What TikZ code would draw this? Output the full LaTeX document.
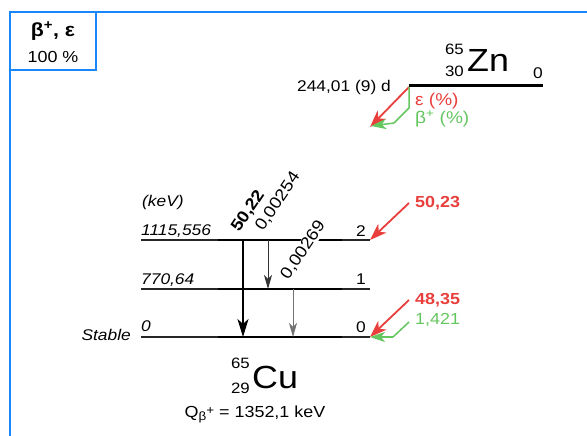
\documentclass[tikz,border=0pt]{standalone}
\usepackage{fontspec}
\setmainfont{Liberation Sans}[FakeStretch=1.12]
\usetikzlibrary{arrows.meta}
\definecolor{frameblue}{RGB}{25,135,250}
\definecolor{decred}{RGB}{232,62,60}
\definecolor{decgreen}{RGB}{100,198,95}
\newcommand{\fsz}[1]{\fontsize{#1}{#1}\selectfont}
\begin{document}
\begin{tikzpicture}[x=1pt,y=-1pt,
  lbl/.style={inner sep=0pt, font=\fsz{15.5}},
  ilbl/.style={inner sep=0pt, font=\fsz{15.5}\itshape},
  redlbl/.style={inner sep=0pt, font=\fsz{16}\bfseries, text=decred},
  framebox/.style={draw=frameblue, line width=2pt},
  lvlthick/.style={line width=2.3pt, black!85},
  lvlthin/.style={line width=1.3pt, black},
  gamthick/.style={line width=2pt, -{Stealth[length=18pt,width=11pt,inset=5pt]}},
  gamthin/.style={line width=1pt, black!80, -{Stealth[length=14pt,width=8pt,inset=4pt]}},
  gamgray/.style={line width=1pt, black!55, -{Stealth[length=14pt,width=8pt,inset=4pt]}},
  feedred/.style={line width=1.8pt, decred, -{Stealth[length=17pt,width=12pt,inset=5pt]}},
  feedgreen/.style={line width=1.5pt, decgreen, -{Stealth[length=15pt,width=10pt,inset=4pt]}}
]
\useasboundingbox (0,0) rectangle (587,436);

% blue frame
\draw[framebox] (10,436) -- (10,12) -- (587,12);
\draw[framebox] (10,12) rectangle (96,70);
\node[inner sep=0pt, font=\fsz{19}\bfseries] (mode) at (53,31) {β\textsuperscript{+}, ε};
\node[lbl, font=\fsz{16}] (pct) at (53,57) {100 \%};

% parent Zn
\coordinate (Zna) at (409,86);
\coordinate (Znb) at (543,86);
\draw[line width=3pt] (Zna) -- (Znb);
\node[inner sep=0pt, font=\fsz{32}, anchor=base west] (Zn) at (467,72) {Zn};
\node[inner sep=0pt, font=\fsz{15}, anchor=base east] (ZnA) at (464,55) {65};
\node[inner sep=0pt, font=\fsz{15}, anchor=base east] (ZnZ) at (464,77) {30};
\node[lbl, anchor=base east] (ZnE) at (543,79) {0};
\node[lbl, anchor=base east] (Znhl) at (391,92) {244,01 (9) d};

% parent decay arrows
\coordinate (zd) at (409,87);
\coordinate (zred) at (370,127);
\coordinate (zg1) at (409,108);
\coordinate (zg2) at (394,123);
\coordinate (zgreen) at (371,126);
\draw[feedred] (zd) -- (zred);
\draw[line width=1.5pt, decgreen, line join=round] (zd) -- (zg1) -- (zg2);
\draw[feedgreen] (zg2) -- (zgreen);
\node[lbl, font=\fsz{17}, anchor=base west, text=decred] (eps) at (415,106) {ε (\%)};
\node[lbl, font=\fsz{17}, anchor=base west, text=decgreen] (bplus) at (415,124) {β\textsuperscript{+} (\%)};

% daughter levels
\foreach \n/\y in {2/240,1/289,0/337}{
  \coordinate (L\n a) at (141,\y);
  \coordinate (L\n b) at (218,\y);
  \coordinate (L\n c) at (342,\y);
  \coordinate (L\n d) at (370,\y);
  \draw[lvlthick] (L\n a) -- (L\n b);
  \draw[lvlthin] (L\n b) -- (L\n c);
  \draw[lvlthick] (L\n c) -- (L\n d);
}
\node[ilbl, anchor=base west] (kev) at (142,206) {(keV)};
\node[ilbl, anchor=base west] (E2) at (141,235) {1115,556};
\node[ilbl, anchor=base west] (E1) at (141,284) {770,64};
\node[ilbl, anchor=base west] (E0) at (141,331) {0};
\node[ilbl, anchor=base east] (stab) at (131,340) {Stable};
\node[lbl, anchor=base east] (n2) at (366,236) {2};
\node[lbl, anchor=base east] (n1) at (366,284) {1};
\node[lbl, anchor=base east] (n0) at (366,332) {0};

% gamma transitions
\coordinate (g1s) at (243,240); \coordinate (g1e) at (243,337);
\coordinate (g2s) at (268,240); \coordinate (g2e) at (268,289);
\coordinate (g3s) at (293,289); \coordinate (g3e) at (293,337);
\draw[gamthick] (g1s) -- (g1e);
\draw[gamthin] (g2s) -- (g2e);
\draw[gamgray] (g3s) -- (g3e);
\node[inner sep=0pt, font=\fsz{16.5}\bfseries, rotate=56, anchor=base west] (i1) at (239,233) {50,22};
\node[lbl, font=\fsz{16.5}, rotate=56, anchor=base west] (i2) at (263,232) {0,00254};
\node[lbl, font=\fsz{16.5}, rotate=56, anchor=base west, fill=white, inner sep=0.5pt] (i3) at (288,281) {0,00269};

% feeding arrows
\coordinate (f2s) at (409,203);
\coordinate (f0s) at (409,300);
\coordinate (f0g) at (409,322);
\coordinate (f0g2) at (393,337);
\draw[feedred] (f2s) -- (L2d);
\draw[feedred] (f0s) -- (L0d);
\draw[line width=1.5pt, decgreen] (f0g) -- (f0g2);
\draw[feedgreen] (f0g2) -- (L0d);
\node[redlbl, anchor=base west] (b2) at (415,207) {50,23};
\node[redlbl, anchor=base west] (b0) at (415,304) {48,35};
\node[lbl, anchor=base west, text=decgreen, font=\fsz{16}] (bp0) at (415,324) {1,421};

% daughter Cu
\node[inner sep=0pt, font=\fsz{32}, anchor=base west] (Cu) at (252,388) {Cu};
\node[inner sep=0pt, font=\fsz{15}, anchor=base east] (CuA) at (250,368) {65};
\node[inner sep=0pt, font=\fsz{15}, anchor=base east] (CuZ) at (250,393) {29};
\node[lbl, font=\fsz{16}] (Q) at (255,414) {Q\raisebox{-3pt}{\fsz{12}β\raisebox{6pt}{+}} = 1352,1 keV};
\end{tikzpicture}
\end{document}
